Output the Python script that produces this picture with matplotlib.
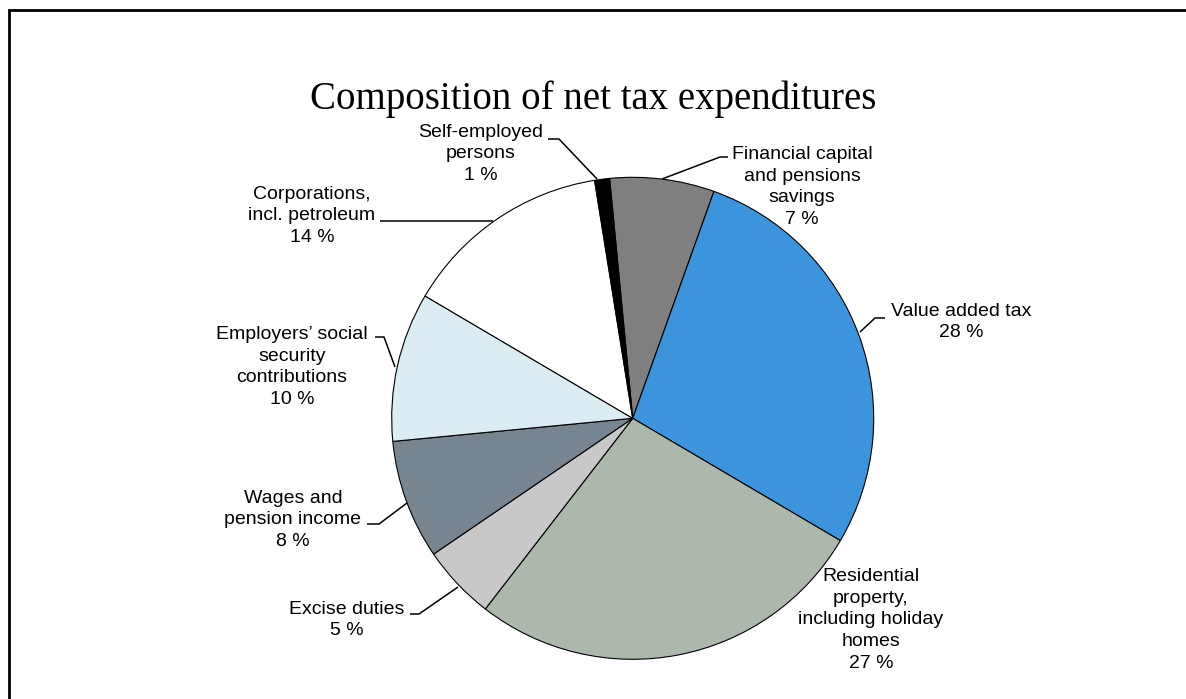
"""Pie chart of the composition of net tax expenditures."""
import matplotlib

matplotlib.use("Agg")
import matplotlib.pyplot as plt
from matplotlib.patches import Rectangle

W, H = 1186, 699

CATEGORIES = [
    "Financial capital\nand pensions\nsavings",
    "Value added tax",
    "Residential\nproperty,\nincluding holiday\nhomes",
    "Excise duties",
    "Wages and\npension income",
    "Employers\u2019 social\nsecurity\ncontributions",
    "Corporations,\nincl. petroleum",
    "Self-employed\npersons",
]
SHARES = [7, 28, 27, 5, 8, 10, 14, 1]
COLORS = ["#7f7f7f", "#3c94dd", "#adb8ad", "#c8c8c8",
          "#778590", "#dbedf3", "#ffffff", "#000000"]

# label block centres and leader polylines, pixels from the top-left corner
LABEL_POS = [(802, 187), (961, 322), (871, 620), (347, 620),
             (293, 520), (292, 367), (312, 216), (481, 154)]
LEADERS = [
    [(728, 157), (720, 157), (662, 179)],
    [(885, 318), (875, 318), (860, 332)],
    None,
    [(410, 614), (419, 614), (458, 587)],
    [(367, 524), (379, 524), (407, 503)],
    [(375, 337), (384, 337), (395, 367)],
    [(380, 221), (493, 221)],
    [(548, 139), (559, 139), (597, 179)],
]

PIE_CENTER = (632.7, 418.3)
PIE_RADIUS = 241


def flip(y):
    return H - y


fig = plt.figure(figsize=(W / 100, H / 100), dpi=100)
ax = fig.add_axes([0, 0, 1, 1])

ax.pie(
    SHARES,
    colors=COLORS,
    startangle=95.5,
    counterclock=False,
    radius=PIE_RADIUS,
    center=(PIE_CENTER[0], flip(PIE_CENTER[1])),
    wedgeprops=dict(edgecolor="black", linewidth=0.8),
)

for name, share, (x, y), leader in zip(CATEGORIES, SHARES, LABEL_POS, LEADERS):
    ax.text(x, flip(y), f"{name}\n{share} %", ha="center", va="center",
            multialignment="center", fontsize=14, family="Liberation Sans",
            linespacing=1.36)
    if leader:
        xs = [p[0] for p in leader]
        ys = [flip(p[1]) for p in leader]
        ax.plot(xs, ys, color="black", lw=1.1, solid_capstyle="butt")

ax.text(593, flip(109), "Composition of net tax expenditures", ha="center",
        va="baseline", fontsize=28, family="Liberation Serif")

# chart frame, running off the right and bottom edges
ax.add_patch(Rectangle((8.7, -30), W + 30, H - 10 + 30, fill=False,
                       edgecolor="black", lw=2))

ax.set_xlim(0, W)
ax.set_ylim(0, H)
ax.set_aspect("equal")
ax.axis("off")

fig.savefig("out.png", dpi=100)
plt.close(fig)
